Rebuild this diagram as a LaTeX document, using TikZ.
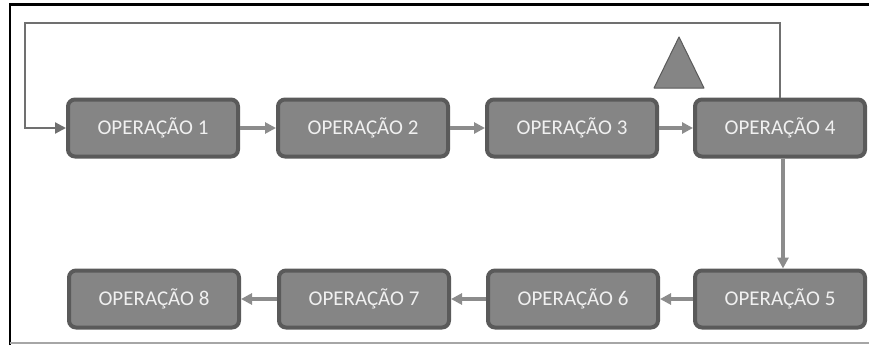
\documentclass[tikz,border=0pt]{standalone}
\usepackage{fontspec}
\setmainfont{Carlito}
\usepackage{tikz}
\usetikzlibrary{arrows.meta, calc}

\definecolor{opFill}{HTML}{858585}
\definecolor{opLine}{HTML}{5A5A5A}
\definecolor{flowGray}{HTML}{8C8C8C}
\definecolor{loopGray}{HTML}{707070}

\begin{document}
\begin{tikzpicture}[x=1pt, y=1pt, >={Triangle[length=11pt, width=11pt]}]
        \tikzstyle{opBox} = [rectangle, draw=opLine, fill=opFill, line width=4pt, rounded corners=7pt, minimum width=170pt, minimum height=57pt, text=white!94!black, font=\fontsize{21}{25}\selectfont, inner sep=0pt]
        \tikzstyle{flow} = [->, draw=flowGray, line width=3.5pt]
        \tikzstyle{loop} = [->, draw=loopGray, line width=2.2pt]

        \useasboundingbox (0,0) rectangle (869,-345);

        % frame of the figure
        \draw[black, line width=2pt] (10,-345) -- (10,-5);
        \draw[black, line width=3pt] (9,-5) -- (869,-5);
        \draw[gray!70, line width=1.5pt] (10,-343) -- (869,-343);

        % first row
        \node[opBox] (op1) at (153,-128) {OPERAÇÃO 1};
        \node[opBox] (op2) at (363,-128) {OPERAÇÃO 2};
        \node[opBox] (op3) at (572,-128) {OPERAÇÃO 3};
        \node[opBox] (op4) at (780,-128) {OPERAÇÃO 4};

        % second row
        \node[opBox] (op8) at (154,-299) {OPERAÇÃO 8};
        \node[opBox] (op7) at (364,-299) {OPERAÇÃO 7};
        \node[opBox] (op6) at (573,-299) {OPERAÇÃO 6};
        \node[opBox] (op5) at (780,-299) {OPERAÇÃO 5};

        % inspection mark
        \coordinate (insp) at (679,-63);
        \draw[draw=opLine, fill=opFill, line width=1pt, line join=round] ($(insp)+(0,26)$) -- ($(insp)+(25,-25)$) -- ($(insp)+(-25,-25)$) -- cycle;

        \draw[flow] (op1) -- (op2);
        \draw[flow] (op2) -- (op3);
        \draw[flow] (op3) -- (op4);
        \draw[flow] ([xshift=3pt]op4.south) -- ([xshift=3pt]op5.north);
        \draw[flow] (op5) -- (op6);
        \draw[flow] (op6) -- (op7);
        \draw[flow] (op7) -- (op8);

        \draw[loop] (op4.north) |- (25,-23) |- (op1.west);
    \end{tikzpicture}
\end{document}
